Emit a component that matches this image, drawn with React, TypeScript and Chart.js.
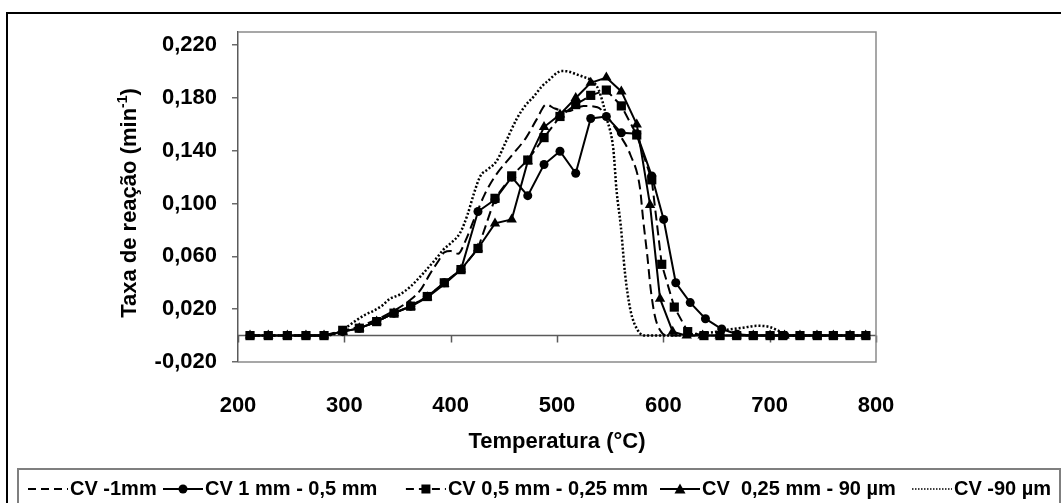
import React, { useEffect, useRef } from 'react';
import { Chart, registerables } from 'chart.js';

Chart.register(...registerables);

const FONT = '"Liberation Sans", Arial, Helvetica, sans-serif';

const seriesLabels = ['CV -1mm', 'CV 1 mm - 0,5 mm', 'CV 0,5 mm - 0,25 mm', 'CV  0,25 mm - 90 µm', 'CV -90 µm'];

// CV -1mm (dashed, no markers)
const tempDashed1mm = [211, 229, 246, 264, 281, 298, 314, 330, 347, 362, 372, 380, 388, 394, 400, 407, 414, 422, 432, 442, 457, 471, 481, 490, 498, 510, 525, 538, 547, 559, 569, 578, 581, 585, 588, 592, 597, 603, 620, 640, 660, 680, 700, 720, 740, 760, 790];
const rateDashed1mm = [0, 0, 0, 0, 0, 0.003, 0.007, 0.012, 0.019, 0.027, 0.035, 0.046, 0.056, 0.063, 0.064, 0.062, 0.072, 0.088, 0.107, 0.121, 0.136, 0.150, 0.164, 0.175, 0.172, 0.170, 0.174, 0.173, 0.166, 0.152, 0.137, 0.112, 0.088, 0.060, 0.036, 0.015, 0.004, 0, 0, 0, 0, 0, 0, 0, 0, 0, 0];

// CV 1 mm - 0,5 mm (solid, circles)
const tempCircle = [211.3, 228.5, 246.4, 263.9, 280.9, 298.5, 314.1, 330.4, 346.7, 362.4, 378.0, 394.0, 409.7, 425.7, 441.7, 457.4, 472.5, 487.8, 502.8, 517.6, 531.7, 546.4, 560.5, 575.0, 589.1, 600.3, 611.7, 625.3, 639.6, 654.9, 669.3, 684.6, 700.3, 714.4, 728.5, 744.5, 759.9, 775.6, 790.3];
const rateCircle = [0, 0, 0, 0, 0, 0.003, 0.0056, 0.0106, 0.017, 0.0223, 0.0296, 0.040, 0.050, 0.094, 0.103, 0.120, 0.106, 0.1296, 0.1397, 0.123, 0.1645, 0.166, 0.1536, 0.153, 0.121, 0.088, 0.040, 0.025, 0.0128, 0.005, 0.001, 0, 0, 0, 0, 0, 0, 0, 0];

// CV 0,5 mm - 0,25 mm (dashed, squares)
const tempSquare = [211.3, 228.5, 246.4, 263.9, 280.9, 298.5, 314.1, 330.4, 346.7, 362.4, 378.0, 394.0, 409.7, 425.7, 441.7, 457.4, 472.5, 487.8, 502.8, 517.6, 531.7, 546.4, 560.5, 575.0, 589.1, 598.5, 610.3, 622.9, 638.2, 653.3, 669.0, 684.6, 700.4, 712.3, 728.5, 744.8, 759.9, 775.6, 790.5];
const rateSquare = [0, 0, 0, 0, 0, 0.004, 0.0056, 0.0106, 0.017, 0.0223, 0.0296, 0.040, 0.050, 0.066, 0.104, 0.121, 0.133, 0.150, 0.166, 0.175, 0.182, 0.186, 0.174, 0.152, 0.118, 0.054, 0.0216, 0.003, 0, 0, 0, 0, 0, 0, 0, 0, 0, 0, 0];

// CV 0,25 mm - 90 µm (solid, triangles)
const tempTriangle = [211.3, 228.5, 246.4, 263.9, 280.9, 298.5, 314.1, 330.4, 346.7, 362.4, 378.0, 394.0, 409.7, 425.7, 441.7, 457.4, 472.5, 487.8, 502.8, 517.6, 531.7, 546.4, 560.5, 575.0, 587.5, 596.9, 608.8, 622, 637, 653, 669, 684.6, 700.4, 714, 728.5, 744.5, 759.9, 775.6, 790.3];
const rateTriangle = [0, 0, 0, 0, 0, 0.003, 0.0056, 0.0106, 0.017, 0.022, 0.029, 0.039, 0.050, 0.066, 0.085, 0.088, 0.132, 0.158, 0.1675, 0.180, 0.1915, 0.1955, 0.185, 0.160, 0.099, 0.028, 0.003, 0, 0, 0, 0, 0, 0, 0, 0, 0, 0, 0, 0];

// CV -90 µm (dotted, no markers)
const tempDotted = [211, 229, 246, 264, 281, 290, 298, 305, 312, 320, 328, 336, 343, 352, 362, 374, 387, 393, 400, 409, 416, 422, 428, 435, 443, 452, 462, 470, 478, 486, 493, 500, 504, 511, 518, 525, 531, 539, 547, 553, 556, 560, 564, 569, 576, 583, 600, 620, 640, 650, 660, 675, 688, 700, 710, 718, 740, 760, 790];
const rateDotted = [0, 0, 0, 0, 0, 0.001, 0.004, 0.008, 0.012, 0.016, 0.019, 0.023, 0.028, 0.031, 0.037, 0.047, 0.059, 0.065, 0.070, 0.078, 0.092, 0.108, 0.121, 0.126, 0.132, 0.147, 0.164, 0.174, 0.181, 0.189, 0.194, 0.199, 0.2004, 0.200, 0.198, 0.196, 0.194, 0.1865, 0.164, 0.141, 0.110, 0.083, 0.047, 0.0195, 0.004, 0, 0, 0.0005, 0.002, 0.003, 0.0045, 0.006, 0.0074, 0.0065, 0.003, 0, 0, 0, 0];

const xTickValues = [200, 300, 400, 500, 600, 700, 800];
const yTickValues = [-0.02, 0.02, 0.06, 0.1, 0.14, 0.18, 0.22];
const xAxisTitle = 'Temperatura (°C)';
const yAxisTitleMain = 'Taxa de reação (min';
const yAxisTitleSup = '-1';
const yAxisTitleEnd = ')';

const zip = (t: number[], v: number[]) => t.map((x, i) => ({ x, y: v[i] }));

type LegendStyle = { dash: number[]; lineWidth: number; marker: string | null; size: number };
const legendStyles: LegendStyle[] = [
  { dash: [8, 5], lineWidth: 2, marker: null, size: 0 },
  { dash: [], lineWidth: 2, marker: 'circle', size: 4.5 },
  { dash: [8, 5], lineWidth: 2, marker: 'rect', size: 4.5 },
  { dash: [], lineWidth: 2, marker: 'triangle', size: 5.5 },
  { dash: [1.5, 1.5], lineWidth: 1.5, marker: null, size: 0 },
];

function drawMarker(ctx: CanvasRenderingContext2D, kind: string, x: number, y: number, s: number) {
  ctx.beginPath();
  if (kind === 'circle') ctx.arc(x, y, s, 0, Math.PI * 2);
  else if (kind === 'rect') ctx.rect(x - s, y - s, 2 * s, 2 * s);
  else if (kind === 'triangle') {
    ctx.moveTo(x, y - s);
    ctx.lineTo(x + s, y + s * 0.8);
    ctx.lineTo(x - s, y + s * 0.8);
    ctx.closePath();
  }
  ctx.fill();
}

const zeroLinePlugin = {
  id: 'zeroLine',
  beforeDatasetsDraw(chart: any) {
    const { ctx, chartArea } = chart;
    const xs = chart.scales.x;
    const ys = chart.scales.y;
    const y0 = ys.getPixelForValue(0);
    ctx.save();
    ctx.strokeStyle = '#5a5a5a';
    ctx.lineWidth = 1.5;
    ctx.beginPath();
    ctx.moveTo(chartArea.left, y0);
    ctx.lineTo(chartArea.right, y0);
    xTickValues.forEach((v) => {
      const px = Math.round(xs.getPixelForValue(v)) + 0.5;
      ctx.moveTo(px, y0);
      ctx.lineTo(px, y0 + 7);
    });
    ctx.stroke();
    ctx.restore();
  },
};

const framePlugin = {
  id: 'frame',
  afterDraw(chart: any) {
    const { ctx, chartArea } = chart;
    ctx.save();
    // plot area border (top/right/bottom)
    ctx.strokeStyle = '#8a8a8a';
    ctx.lineWidth = 1.5;
    ctx.beginPath();
    ctx.moveTo(chartArea.left, chartArea.top);
    ctx.lineTo(chartArea.right, chartArea.top);
    ctx.lineTo(chartArea.right, chartArea.bottom);
    ctx.lineTo(chartArea.left, chartArea.bottom);
    ctx.stroke();

    // outer border
    ctx.strokeStyle = '#000';
    ctx.lineWidth = 2;
    ctx.strokeRect(7, 13, 1100, 600);

    // legend box
    ctx.strokeStyle = '#7f7f7f';
    ctx.lineWidth = 2;
    ctx.strokeRect(18, 469, 1042, 100);

    // legend items
    ctx.font = `bold 20px ${FONT}`;
    ctx.textBaseline = 'middle';
    ctx.textAlign = 'left';
    ctx.fillStyle = '#000';
    ctx.strokeStyle = '#000';
    const ly = 489;
    const w3 = ctx.measureText(seriesLabels[2]).width;
    const sampleX = [28, 163, 648 - w3 - 42, 660, 912];
    seriesLabels.forEach((label, i) => {
      const st = legendStyles[i];
      const sx = sampleX[i];
      ctx.setLineDash(st.dash);
      ctx.lineWidth = st.lineWidth;
      ctx.beginPath();
      ctx.moveTo(sx, ly);
      ctx.lineTo(sx + 40, ly);
      ctx.stroke();
      ctx.setLineDash([]);
      if (st.marker) drawMarker(ctx, st.marker, sx + 20, ly, st.size);
      ctx.fillText(label, sx + 42, ly);
    });

    // y axis title with superscript
    ctx.translate(130, 203);
    ctx.rotate(-Math.PI / 2);
    const mainFont = `bold 22px ${FONT}`;
    const supFont = `bold 14px ${FONT}`;
    ctx.font = mainFont;
    const wMain = ctx.measureText(yAxisTitleMain).width;
    const wEnd = ctx.measureText(yAxisTitleEnd).width;
    ctx.font = supFont;
    const wSup = ctx.measureText(yAxisTitleSup).width;
    let x = -(wMain + wSup + wEnd) / 2;
    ctx.font = mainFont;
    ctx.fillText(yAxisTitleMain, x, 0);
    x += wMain;
    ctx.font = supFont;
    ctx.fillText(yAxisTitleSup, x, -7);
    x += wSup;
    ctx.font = mainFont;
    ctx.fillText(yAxisTitleEnd, x, 0);
    ctx.restore();
  },
};

export default function App() {
  const ref = useRef<HTMLCanvasElement>(null);
  useEffect(() => {
    document.body.style.margin = '0';
    const canvas = ref.current!;
    const black = '#000';
    const chart = new Chart(canvas, {
      type: 'line',
      data: {
        datasets: [
          {
            label: seriesLabels[0],
            data: zip(tempDashed1mm, rateDashed1mm),
            borderColor: black,
            borderWidth: 2,
            borderDash: [10, 5],
            pointRadius: 0,
            cubicInterpolationMode: 'monotone',
          },
          {
            label: seriesLabels[1],
            data: zip(tempCircle, rateCircle),
            borderColor: black,
            borderWidth: 2,
            pointStyle: 'circle',
            pointRadius: 4.5,
            pointBackgroundColor: black,
            pointBorderColor: black,
            pointBorderWidth: 0,
            tension: 0,
          },
          {
            label: seriesLabels[2],
            data: zip(tempSquare, rateSquare),
            borderColor: black,
            borderWidth: 2,
            borderDash: [10, 5],
            pointStyle: 'rect',
            pointRadius: 6.5,
            pointBackgroundColor: black,
            pointBorderColor: black,
            pointBorderWidth: 0,
            tension: 0,
          },
          {
            label: seriesLabels[3],
            data: zip(tempTriangle, rateTriangle),
            borderColor: black,
            borderWidth: 2,
            pointStyle: 'triangle',
            pointRadius: 6,
            pointBackgroundColor: black,
            pointBorderColor: black,
            pointBorderWidth: 0,
            tension: 0,
          },
          {
            label: seriesLabels[4],
            data: zip(tempDotted, rateDotted),
            borderColor: black,
            borderWidth: 2.5,
            borderDash: [2, 2],
            pointRadius: 0,
            cubicInterpolationMode: 'monotone',
          },
        ],
      },
      options: {
        animation: false,
        responsive: false,
        devicePixelRatio: 1,
        layout: { padding: { left: 0, top: 32, right: 185, bottom: 0 } },
        plugins: { legend: { display: false }, tooltip: { enabled: false } },
        scales: {
          x: {
            type: 'linear',
            min: 200,
            max: 800,
            afterBuildTicks: (s: any) => {
              s.ticks = xTickValues.map((v) => ({ value: v }));
            },
            afterFit: (s: any) => {
              s.height = 141;
            },
            grid: { display: false },
            border: { display: false },
            ticks: {
              padding: 23,
              color: black,
              maxRotation: 0,
              autoSkip: false,
              font: { family: FONT, size: 22, weight: 'bold' },
              callback: (v: any) => String(v),
            },
            title: {
              display: true,
              text: xAxisTitle,
              color: black,
              font: { family: FONT, size: 22, weight: 'bold' },
              padding: { top: 0, bottom: 48 },
            },
          },
          y: {
            type: 'linear',
            min: -0.02,
            max: 0.23,
            afterBuildTicks: (s: any) => {
              s.ticks = yTickValues.map((v) => ({ value: v }));
            },
            afterFit: (s: any) => {
              s.width = 238;
            },
            grid: { drawOnChartArea: false, drawTicks: true, tickLength: 6, color: '#6a6a6a', lineWidth: 1.5 },
            border: { display: true, color: '#5a5a5a', width: 1.5 },
            ticks: {
              padding: 15,
              color: black,
              autoSkip: false,
              font: { family: FONT, size: 22, weight: 'bold' },
              callback: (v: any) => Number(v).toFixed(3).replace('.', ','),
            },
          },
        },
      } as any,
      plugins: [zeroLinePlugin, framePlugin],
    });
    return () => chart.destroy();
  }, []);
  return (
    <div style={{ position: 'absolute', left: 0, top: 0, width: 1061, height: 503, background: '#fff' }}>
      <canvas ref={ref} width={1061} height={503} style={{ display: 'block', width: 1061, height: 503 }} />
    </div>
  );
}
